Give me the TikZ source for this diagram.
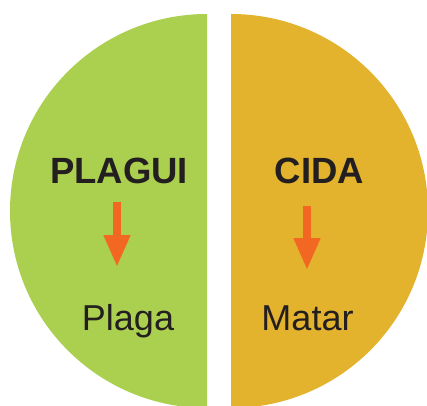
\documentclass[tikz,border=0pt]{standalone}
\usepackage{fontspec}
\setmainfont{Liberation Sans}
\usepackage{xcolor}
\usetikzlibrary{arrows.meta,positioning}

\definecolor{leafgreen}{HTML}{ABD04F}
\definecolor{goldhalf}{HTML}{E3B32D}
\definecolor{arroworange}{HTML}{F26722}
\definecolor{inkdark}{HTML}{231F20}

\begin{document}
\begin{tikzpicture}[x=1pt,y=1pt,
  word/.style={text=inkdark,inner sep=0pt,anchor=base,font=\fontsize{36}{40}\selectfont},
  bigword/.style={word,font=\fontsize{36.5}{40}\selectfont\bfseries},
  downarrow/.style={draw=arroworange,line width=7.5pt,-{Triangle[width=25pt,length=32pt]}}]
  \clip (0,0) rectangle (427,405);

  % the two halves
  \fill[leafgreen] (207,194) ++(0,197) arc[start angle=90,end angle=270,radius=197] -- cycle;
  \fill[goldhalf] (231,194) ++(0,-197) arc[start angle=-90,end angle=90,radius=197] -- cycle;

  % words
  \node[bigword] (plagui) at (119,222) {PLAGUI};
  \node[bigword] (cida) at (319.5,222) {CIDA};
  \node[word] (plaga) at (128,75) {Plaga};
  \node[word] (matar) at (307.5,75) {Matar};

  % arrows
  \coordinate (ltop) at (117,203);
  \coordinate (ltip) at (117,138);
  \coordinate (rtop) at (307,199);
  \coordinate (rtip) at (307,135);
  \draw[downarrow] (ltop) -- (ltip);
  \draw[downarrow] (rtop) -- (rtip);
\end{tikzpicture}
\end{document}
